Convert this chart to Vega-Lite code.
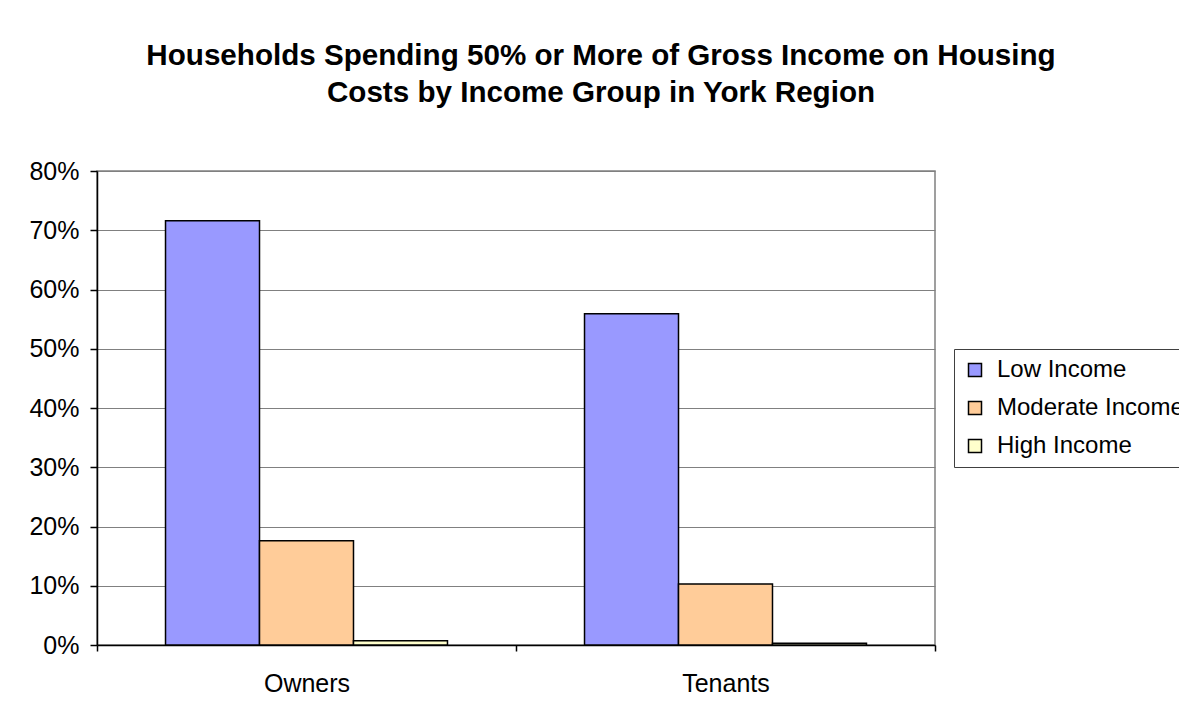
{
  "$schema": "https://vega.github.io/schema/vega-lite/v6.json",
  "autosize": "none",
  "width": 838,
  "height": 474,
  "padding": {"left": 97, "top": 171, "right": 244, "bottom": 70},
  "background": "white",
  "title": {
    "text": ["Households Spending 50% or More of Gross Income on Housing", "Costs by Income Group in York Region"],
    "font": "Liberation Sans",
    "fontSize": 29.6,
    "fontWeight": "bold",
    "color": "black",
    "lineHeight": 37,
    "anchor": "middle",
    "frame": "group",
    "dx": 85,
    "offset": 50
  },
  "data": {
    "values": [
      {"tenure": "Owners", "group": "Low Income", "share": 0.716},
      {"tenure": "Owners", "group": "Moderate Income", "share": 0.176},
      {"tenure": "Owners", "group": "High Income", "share": 0.007},
      {"tenure": "Tenants", "group": "Low Income", "share": 0.559},
      {"tenure": "Tenants", "group": "Moderate Income", "share": 0.103},
      {"tenure": "Tenants", "group": "High Income", "share": 0.003}
    ]
  },
  "mark": {"type": "bar", "stroke": "black", "strokeWidth": 1.5},
  "encoding": {
    "x": {
      "field": "tenure",
      "type": "nominal",
      "scale": {"paddingInner": 0, "paddingOuter": 0},
      "axis": {
        "title": null,
        "labelAngle": 0,
        "labelFont": "Liberation Sans",
        "labelFontSize": 25,
        "labelColor": "black",
        "labelPadding": 20,
        "tickBand": "extent",
        "tickSize": 6,
        "tickColor": "black",
        "domainColor": "black",
        "grid": false
      }
    },
    "xOffset": {
      "field": "group",
      "type": "nominal",
      "sort": ["Low Income", "Moderate Income", "High Income"],
      "scale": {"paddingInner": 0, "paddingOuter": 0.729}
    },
    "y": {
      "field": "share",
      "type": "quantitative",
      "scale": {"domain": [0, 0.8], "nice": false},
      "axis": {
        "title": null,
        "format": ".0%",
        "values": [0, 0.1, 0.2, 0.3, 0.4, 0.5, 0.6, 0.7, 0.8],
        "labelFont": "Liberation Sans",
        "labelFontSize": 25,
        "labelColor": "black",
        "labelPadding": 11,
        "tickSize": 7,
        "tickColor": "black",
        "domainColor": "black",
        "grid": true,
        "gridColor": "#808080",
        "gridOpacity": 1,
        "gridWidth": 1
      }
    },
    "color": {
      "field": "group",
      "type": "nominal",
      "sort": ["Low Income", "Moderate Income", "High Income"],
      "scale": {"domain": ["Low Income", "Moderate Income", "High Income"], "range": ["#9999FF", "#FFCC99", "#FFFFCC"]},
      "legend": {
        "title": null,
        "orient": "none",
        "legendX": 857,
        "legendY": 178,
        "direction": "vertical",
        "padding": 9,
        "strokeColor": "#404040",
        "fillColor": "white",
        "symbolType": "square",
        "symbolSize": 169,
        "symbolStrokeColor": "black",
        "symbolStrokeWidth": 1.5,
        "symbolOpacity": 1,
        "labelFont": "Liberation Sans",
        "labelFontSize": 24,
        "labelColor": "black",
        "labelLimit": 400,
        "labelOffset": 10,
        "rowPadding": 14
      }
    }
  },
  "config": {
    "view": {"stroke": "#808080", "strokeWidth": 1.5},
    "axis": {"domainWidth": 1.5, "tickWidth": 1.5}
  }
}
